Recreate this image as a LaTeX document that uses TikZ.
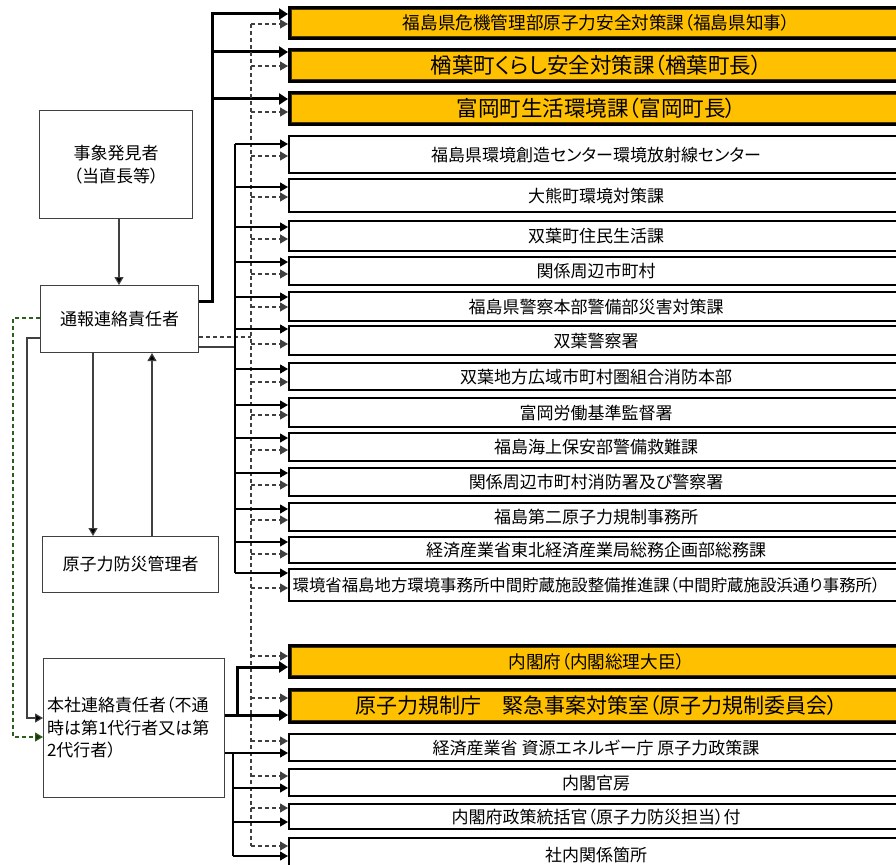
\documentclass[tikz,border=0pt]{standalone}
\usepackage{fontspec}
\setmainfont{Noto Sans CJK JP}[RawFeature=+palt]
\usetikzlibrary{arrows.meta}
\definecolor{orng}{HTML}{FFC000}
\definecolor{dgreen}{HTML}{2E5E1E}
\definecolor{inbrown}{HTML}{4A3500}
\definecolor{lgray}{HTML}{404040}
\newcommand\myfs{\fontsize{17}{22.5}\selectfont}
\newcommand\myofs{\fontsize{17.6}{22}\selectfont}
\newcommand\mysmallfs{\fontsize{16.4}{20}\selectfont}
\newcommand\mybigfs{\fontsize{21}{24}\selectfont}
\newcommand\mylargefs{\fontsize{21.5}{24}\selectfont}
\tikzset{
  wbox/.style={draw=black, line width=2.2pt, fill=white, minimum width=614pt, anchor=north west, inner sep=0pt, font=\myfs},
  obox/.style={wbox, fill=orng, line width=3pt, font=\myofs},
  lbox/.style={draw=lgray, line width=1pt, fill=white, anchor=north west, inner sep=2pt, align=center, font=\myfs},
  innerline/.style={draw=inbrown, line width=0.9pt},
  sline/.style={line width=1.1pt, line cap=butt},
  sarr/.style={sline, -{Triangle[length=8pt,width=9pt]}},
  tline/.style={line width=3pt, line join=miter},
  tarr/.style={tline, -{Triangle[length=9pt,width=11pt]}},
  dline/.style={line width=1.1pt, dash pattern=on 4pt off 3pt, draw=black!75},
  darr/.style={dline, -{Triangle[length=8pt,width=9pt]}, color=black!75},
  garr/.style={line width=1.1pt, draw=lgray, -{Triangle[length=8pt,width=9pt,fill=black]}},
  grarr/.style={line width=1.1pt, draw=dgreen, dash pattern=on 4pt off 3pt, -{Triangle[length=8pt,width=9pt,fill=dgreen!60!black]}},
}
\begin{document}
\begin{tikzpicture}[x=1pt,y=-1pt]
\useasboundingbox (0,0) rectangle (896,864);
\fill[white] (0,0) rectangle (896,864);
\clip (0,0) rectangle (896,864);

% ---------- left boxes ----------
\node[lbox, minimum width=153pt, minimum height=108pt] (finder) at (39,110) {事象発見者\\（当直長等）};
\node[lbox, minimum width=158pt, minimum height=67pt] (rep) at (40,285) {通報連絡責任者};
\node[lbox, minimum width=176pt, minimum height=56pt] (mgr) at (42,536) {原子力防災管理者};
\node[lbox, minimum height=139pt, text width=174pt, inner xsep=3.5pt, align=left] (hq) at (43,658) {本社連絡責任者（不通\\時は第1代行者又は第\\2代行者）};

% ---------- right boxes ----------
\node[obox, minimum height=31pt] (o1) at (288,6) {福島県危機管理部原子力安全対策課（福島県知事）};
\node[obox, minimum height=32pt, font=\mylargefs] (o2) at (288,48) {楢葉町くらし安全対策課（楢葉町長）};
\node[obox, minimum height=32pt, font=\mylargefs] (o3) at (288,91) {富岡町生活環境課（富岡町長）};
\node[wbox, minimum height=37pt] (w1) at (288,135) {福島県環境創造センター環境放射線センター};
\node[wbox, minimum height=33pt] (w2) at (288,178) {大熊町環境対策課};
\node[wbox, minimum height=30pt] (w3) at (288,220) {双葉町住民生活課};
\node[wbox, minimum height=28pt] (w4) at (288,256) {関係周辺市町村};
\node[wbox, minimum height=29pt] (w5) at (288,291) {福島県警察本部警備部災害対策課};
\node[wbox, minimum height=29pt] (w6) at (288,325) {双葉警察署};
\node[wbox, minimum height=27pt] (w7) at (288,362) {双葉地方広域市町村圏組合消防本部};
\node[wbox, minimum height=29pt] (w8) at (288,397) {富岡労働基準監督署};
\node[wbox, minimum height=28pt] (w9) at (288,432) {福島海上保安部警備救難課};
\node[wbox, minimum height=28pt] (w10) at (288,467) {関係周辺市町村消防署及び警察署};
\node[wbox, minimum height=28pt] (w11) at (288,502) {福島第二原子力規制事務所};
\node[wbox, minimum height=26pt] (w12) at (288,536) {経済産業省東北経済産業局総務企画部総務課};
\node[wbox, minimum height=32pt, text width=700pt, inner xsep=3.5pt, align=left, font=\mysmallfs] (w13) at (288,568) {環境省福島地方環境事務所中間貯蔵施設整備推進課（中間貯蔵施設浜通り事務所）};
\node[obox, minimum height=32pt] (o4) at (288,644) {内閣府（内閣総理大臣）};
\node[obox, minimum height=33pt, font=\mybigfs] (o5) at (288,688) {原子力規制庁　緊急事案対策室（原子力規制委員会）};
\node[wbox, minimum height=27pt] (w14) at (288,733) {経済産業省 資源エネルギー庁 原子力政策課};
\node[wbox, minimum height=27pt] (w15) at (288,768) {内閣官房};
\node[wbox, minimum height=25pt] (w16) at (288,803) {内閣府政策統括官（原子力防災担当）付};
\node[wbox, minimum height=33pt] (w17) at (288,837) {社内関係箇所};

% inner lines of orange boxes
\foreach \n in {o1,o2,o3,o4,o5}
  \draw[innerline] ([xshift=3.5pt,yshift=-3.5pt]\n.north west) rectangle ([xshift=-3.5pt,yshift=3.5pt]\n.south east);

% ---------- left connectors ----------
\draw[garr] (finder.south -| 119,0) -- (rep.north -| 119,0);
\draw[garr] (rep.south -| 93,0) -- (mgr.north -| 93,0);
\draw[garr] (mgr.north -| 152,0) -- (rep.south -| 152,0);
\draw[garr] (rep.west |- 0,338) -- (27,338) -- (27,718) -- (hq.west |- 0,718);
\draw[grarr] (rep.west |- 0,318) -- (13,318) -- (13,737) -- (hq.west |- 0,737);

% ---------- thick lines to orange boxes (upper) ----------
\coordinate (tkA) at (212,301);
\draw[tarr] (rep.east |- tkA) -- (tkA) -- (212,14) -- (o1.west |- 0,14);
\draw[tarr] (212,52) -- (o2.west |- 0,52);
\draw[tarr] (212,99) -- (o3.west |- 0,99);

% ---------- dashed trunk ----------
\coordinate (dk) at (251,337);
\draw[dline] (rep.east |- dk) -- (dk);
\draw[dline] (251,24) -- (251,846);
\foreach \n/\y in {o1/24,o2/66,o3/112,w1/156,w2/197,w3/239,w4/274,w5/307,w6/344,w7/382,w8/415,w9/450,w10/485,w11/520,w12/554,w13/588,o4/656,o5/698,w14/741,w15/776,w16/808,w17/846}
  \draw[darr] (251,\y) -- (\n.west |- 0,\y);

% ---------- thin solid trunk (upper) ----------
\coordinate (sk) at (235,347);
\draw[sline, draw=lgray] (rep.east |- sk) -- (sk);
\draw[sline] (235,144) -- (235,573);
\foreach \n/\y in {w1/144,w2/187,w3/227,w4/262,w5/297,w6/329,w7/369,w8/405,w9/438,w10/473,w11/509,w12/542,w13/573}
  \draw[sarr] (235,\y) -- (\n.west |- 0,\y);

% ---------- lower section ----------
\draw[tarr] (hq.east |- 0,715) -- (o5.west |- 0,715);
\draw[tarr] (237,715) -- (237,667) -- (o4.west |- 0,667);
\draw[sarr] (hq.east |- 0,753) -- (w14.west |- 0,753);
\draw[sline] (233,753) -- (233,856);
\foreach \n/\y in {w15/788,w16/822,w17/856}
  \draw[sarr] (233,\y) -- (\n.west |- 0,\y);
\end{tikzpicture}
\end{document}
